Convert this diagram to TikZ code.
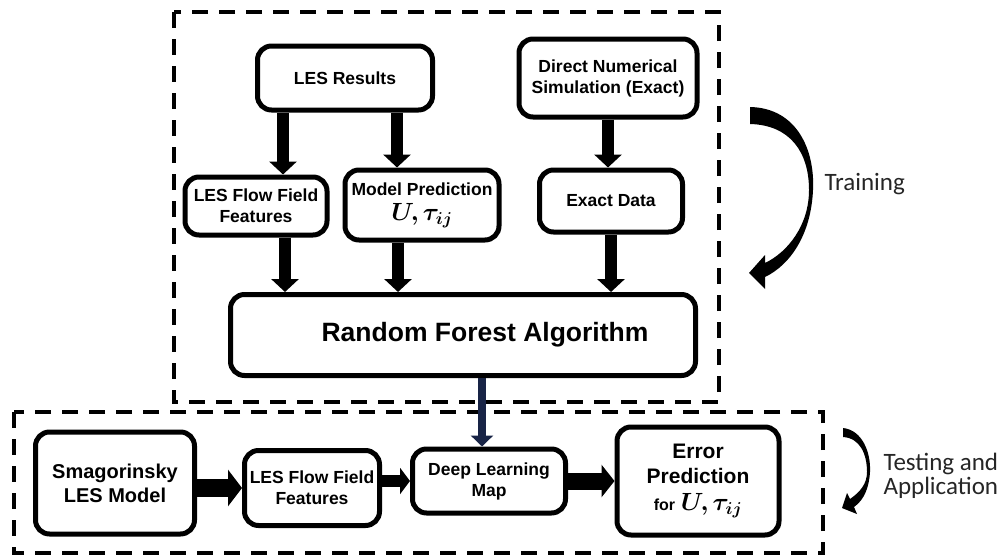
\documentclass[tikz,border=0pt]{standalone}
\usepackage{fontspec}
\usepackage{bm}
\setmainfont{Liberation Sans}
\newfontfamily\notefont{Carlito}
\usetikzlibrary{arrows.meta}
\definecolor{navyarrow}{RGB}{24,36,70}

\begin{document}
\begin{tikzpicture}[x=1pt,y=-1pt]
\tikzset{box/.style={draw,line width=5pt,rounded corners=14pt,align=center,inner sep=2pt,
  font=\bfseries\fontsize{17.5}{21}\selectfont}}
\tikzset{zone/.style={line width=4pt,dash pattern=on 16pt off 11pt}}
\tikzset{fat/.style={line width=12pt,-{Triangle[width=27pt,length=13pt]}}}
\tikzset{note/.style={font=\notefont\fontsize{25}{24}\selectfont,align=left,anchor=west,text=black!85}}

\useasboundingbox (0,0) rectangle (1008,554);

% dashed zones
\draw[zone] (174,12) rectangle (719,402);
\draw[zone] (14,412) rectangle (823,553);

% training part
\node[box,minimum width=175pt,minimum height=64pt] (les) at (345,78) {LES Results};
\node[box,minimum width=178pt,minimum height=78pt] (dns) at (608,78) {Direct Numerical\\Simulation (Exact)};
\node[box,minimum width=142pt,minimum height=58pt] (fff) at (256,206) {LES Flow Field\\Features};
\node[box,minimum width=154pt,minimum height=70pt] (pred) at (422,205) {Model Prediction\\[4pt]{\fontsize{24}{24}\selectfont$\bm{U,\tau_{ij}}$}};
\node[box,minimum width=143pt,minimum height=62pt] (exact) at (611,201) {Exact Data};
\node[box,minimum width=465pt,minimum height=81pt,font=\bfseries\fontsize{26.5}{30}\selectfont] (rf) at (463,335) {\hspace*{44pt}Random Forest Algorithm};

\draw[fat] ([xshift=-62pt]les.south) -- ([xshift=-62pt]les.south |- fff.north);
\draw[fat] ([xshift=52pt]les.south) -- ([xshift=52pt]les.south |- pred.north);
\draw[fat] (dns.south) -- (dns.south |- exact.north);
\draw[fat] ([xshift=29pt]fff.south) -- ([xshift=29pt]fff.south |- rf.north);
\draw[fat] ([xshift=-24pt]pred.south) -- ([xshift=-24pt]pred.south |- rf.north);
\draw[fat] (exact.south) -- (exact.south |- rf.north);

% testing part
\node[box,minimum width=159pt,minimum height=102pt,font=\bfseries\fontsize{20}{24}\selectfont] (smag) at (115,483) {Smagorinsky\\LES Model};
\node[box,minimum width=135pt,minimum height=75pt] (fff2) at (312,488) {LES Flow Field\\Features};
\node[box,minimum width=153pt,minimum height=64pt] (dlm) at (489,481) {Deep Learning\\Map};
\node[box,minimum width=162pt,minimum height=108pt,font=\bfseries\fontsize{21}{25}\selectfont] (err) at (698,481)
  {Error\\Prediction\\[2pt]{\fontsize{16}{20}\selectfont for} {\fontsize{24}{24}\selectfont$\bm{U,\tau_{ij}}$}};

\draw[line width=8pt,navyarrow,-{Triangle[width=22pt,length=11pt]}] ([xshift=19pt]rf.south) -- ([xshift=19pt]rf.south |- dlm.north);
\draw[line width=18pt,-{Triangle[width=36pt,length=14pt]}] (fff2.west -| smag.east) -- (fff2.west);
\draw[line width=12pt,-{Triangle[width=26pt,length=10pt]}] (dlm.west -| fff2.east) -- (dlm.west);
\draw[line width=17pt,-{Triangle[width=32pt,length=13pt]}] (dlm.east) -- (dlm.east -| err.west);

% curved arrows
\fill (750,107) .. controls (797,108) and (815,150) .. (813,190) .. controls (811,235) and (790,265) .. (765,277)
  -- (765,289) -- (749,273) -- (765,255) -- (765,263)
  .. controls (788,252) and (809,225) .. (809,190) .. controls (809,152) and (790,125) .. (750,124) -- cycle;
\node[note] (train) at (821,184) {Training};

\fill (843,428) .. controls (862,430) and (871,452) .. (870,472) .. controls (869,488) and (864,500) .. (854,507)
  -- (857,514) -- (842,508) -- (847,493) -- (850,499)
  .. controls (860,492) and (867,484) .. (867,472) .. controls (867,454) and (860,438) .. (843,437) -- cycle;
\node[note] (test) at (880,476) {Testing and\\Application};
\end{tikzpicture}
\end{document}
